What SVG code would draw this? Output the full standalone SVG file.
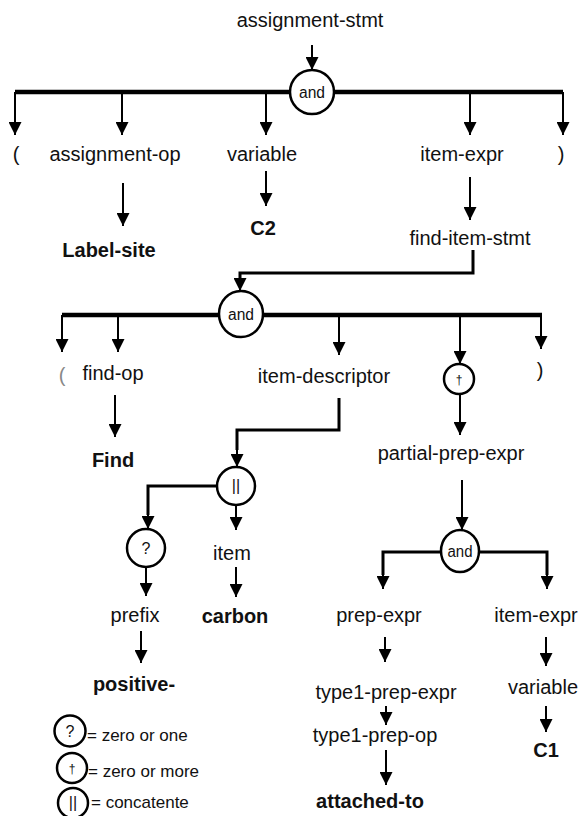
<svg xmlns="http://www.w3.org/2000/svg" width="581" height="816" viewBox="0 0 581 816">
<defs>
<marker id="ah" viewBox="0 0 13 13" markerUnits="userSpaceOnUse" markerWidth="13" markerHeight="13" refX="13" refY="6.5" orient="auto">
<path d="M0,0 L13,6.5 L0,13 z" fill="#000"/>
</marker>
<style>
text{font-family:"Liberation Sans",Arial,Helvetica,sans-serif;fill:#111;}
.lbl{font-size:20px;text-anchor:middle;}
.b{font-size:20px;font-weight:bold;text-anchor:middle;}
.op{font-size:16px;text-anchor:middle;}
.leg{font-size:17px;}
.c{fill:#fff;stroke:#000;stroke-width:2.5;}
.a{fill:none;stroke:#000;stroke-width:2;marker-end:url(#ah);}
.t{fill:none;stroke:#000;stroke-width:4.5;}
.m{fill:none;stroke:#000;stroke-width:3;}
</style>
</defs>
<rect width="581" height="816" fill="#fff"/>
<g id="connectors">
<path class="a" d="M312,45 L312,70"/>
<path class="t" d="M15,92 L563,92"/>
<path class="a" d="M15,92 L15,135"/>
<path class="a" d="M122,92 L122,135"/>
<path class="a" d="M266,92 L266,135"/>
<path class="a" d="M470,92 L470,135"/>
<path class="a" d="M563,92 L563,135"/>
<path class="a" d="M123,183 L123,226"/>
<path class="a" d="M266,171 L266,206"/>
<path class="a" d="M470,177 L470,220"/>
<path class="m" d="M473,250 L473,273 L240,273 L240,280"/>
<path class="a" d="M240,278 L240,291"/>
<path class="t" d="M62,315 L542,315"/>
<path class="a" d="M62,315 L62,352"/>
<path class="a" d="M118,315 L118,352"/>
<path class="a" d="M339,315 L339,355"/>
<path class="a" d="M460,315 L460,364"/>
<path class="a" d="M541,315 L541,349"/>
<path class="a" d="M115,395 L115,437"/>
<path class="m" d="M339,398 L339,430 L237,430 L237,450"/>
<path class="a" d="M237,448 L237,467"/>
<path class="m" d="M217,486 L148,486 L148,515"/>
<path class="a" d="M148,512 L148,529"/>
<path class="a" d="M236,505 L236,530"/>
<path class="a" d="M146,567 L146,596"/>
<path class="a" d="M236,567 L236,597"/>
<path class="a" d="M141,631 L141,663"/>
<path class="a" d="M460,394 L460,435"/>
<path class="a" d="M462,480 L462,530"/>
<path class="m" d="M441,552 L383,552 L383,575"/>
<path class="a" d="M383,572 L383,589"/>
<path class="m" d="M479,552 L547,552 L547,575"/>
<path class="a" d="M547,572 L547,589"/>
<path class="a" d="M385,637 L385,662"/>
<path class="a" d="M386,706 L386,725"/>
<path class="a" d="M386,750 L386,785"/>
<path class="a" d="M546,637 L546,666"/>
<path class="a" d="M546,706 L546,732"/>
</g>
<g id="assignment-stmt"><text class="lbl" x="310" y="27">assignment-stmt</text></g>
<g id="and1"><ellipse class="c" cx="312" cy="92" rx="22" ry="22"/><text class="op" x="312" y="98" textLength="26" lengthAdjust="spacingAndGlyphs">and</text></g>
<g id="lparen1"><text class="lbl" x="16" y="161">(</text></g>
<g id="assignment-op"><text class="lbl" x="115" y="161">assignment-op</text></g>
<g id="variable1"><text class="lbl" x="262" y="161">variable</text></g>
<g id="item-expr1"><text class="lbl" x="462" y="161">item-expr</text></g>
<g id="rparen1"><text class="lbl" x="561" y="161">)</text></g>
<g id="label-site"><text class="b" x="109" y="257">Label-site</text></g>
<g id="c2"><text class="b" x="263" y="235">C2</text></g>
<g id="find-item-stmt"><text class="lbl" x="470" y="245">find-item-stmt</text></g>
<g id="and2"><ellipse class="c" cx="241" cy="314" rx="22" ry="23"/><text class="op" x="241" y="320" textLength="26" lengthAdjust="spacingAndGlyphs">and</text></g>
<g id="lparen2"><text class="lbl" x="62" y="382" style="fill:#888">(</text></g>
<g id="find-op"><text class="lbl" x="113" y="380">find-op</text></g>
<g id="item-descriptor"><text class="lbl" x="324" y="383">item-descriptor</text></g>
<g id="star"><circle class="c" cx="459" cy="379" r="15"/><text class="op" x="459" y="384" style="font-size:12px">†</text></g>
<g id="rparen2"><text class="lbl" x="540" y="377">)</text></g>
<g id="find"><text class="b" x="113" y="467">Find</text></g>
<g id="concat"><circle class="c" cx="236" cy="486" r="19"/><text class="op" x="236" y="491">||</text></g>
<g id="opt"><circle class="c" cx="146" cy="548" r="19"/><text class="op" x="146" y="554">?</text></g>
<g id="item"><text class="lbl" x="232" y="560">item</text></g>
<g id="prefix"><text class="lbl" x="135" y="622">prefix</text></g>
<g id="carbon"><text class="b" x="235" y="623">carbon</text></g>
<g id="positive"><text class="b" x="134" y="691">positive-</text></g>
<g id="partial-prep-expr"><text class="lbl" x="451" y="460">partial-prep-expr</text></g>
<g id="and3"><ellipse class="c" cx="460" cy="551" rx="19" ry="21"/><text class="op" x="460" y="557" textLength="25" lengthAdjust="spacingAndGlyphs">and</text></g>
<g id="prep-expr"><text class="lbl" x="379" y="622">prep-expr</text></g>
<g id="item-expr2"><text class="lbl" x="536" y="622">item-expr</text></g>
<g id="type1-prep-expr"><text class="lbl" x="386" y="699">type1-prep-expr</text></g>
<g id="type1-prep-op"><text class="lbl" x="375" y="742">type1-prep-op</text></g>
<g id="attached-to"><text class="b" x="370" y="808">attached-to</text></g>
<g id="variable2"><text class="lbl" x="543" y="694">variable</text></g>
<g id="c1"><text class="b" x="546" y="757">C1</text></g>
<g id="legend">
<circle class="c" cx="70" cy="731" r="15.5"/><text class="op" x="70" y="737">?</text><text class="leg" x="87" y="741">= zero or one</text>
<circle class="c" cx="72" cy="768" r="15"/><text class="op" x="72" y="773" style="font-size:12px">†</text><text class="leg" x="88" y="777">= zero or more</text>
<circle class="c" cx="73" cy="803" r="15"/><text class="op" x="73" y="808">||</text><text class="leg" x="91" y="808">= concatente</text>
</g>
</svg>
